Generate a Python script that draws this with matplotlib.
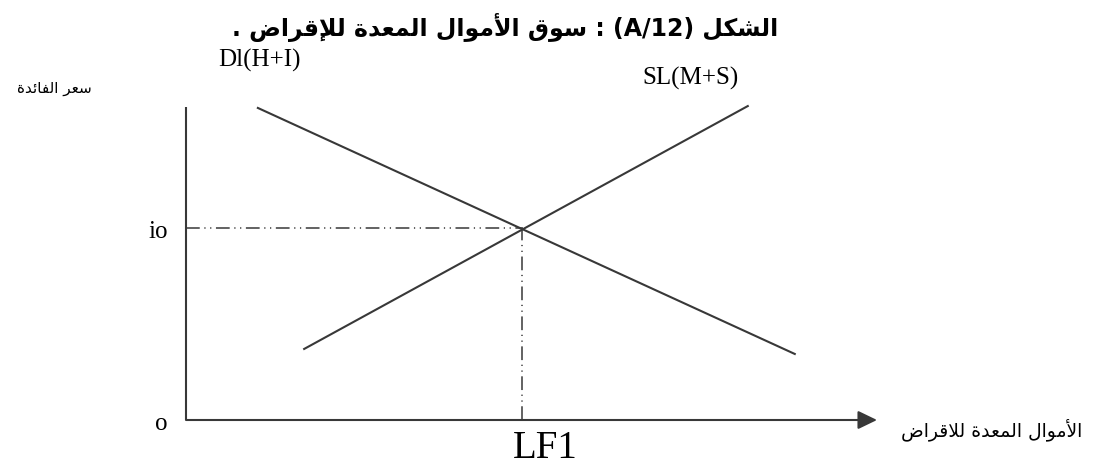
import re
import matplotlib
matplotlib.use("Agg")
import matplotlib.pyplot as plt

# ---------------- data ----------------
title = "الشكل (A/12) : سوق الأموال المعدة للإقراض ."
ylabel = "سعر الفائدة"
xlabel = "الأموال المعدة للاقراض"
demand_label = "Dl(H+I)"
supply_label = "SL(M+S)"
rate_label = "io"
origin_label = "o"
funds_label = "LF1"

demand_x = [10.4, 88.1]
demand_y = [99.7, 21.1]
supply_x = [17.1, 81.3]
supply_y = [22.7, 100.3]
eq_rate = 61.3     # io
eq_funds = 48.6    # LF1

# ---------------- minimal Arabic shaping + bidi ----------------
FORMS = {
    '\u0627': ('\uFE8D', '\uFE8E', None, None),
    '\u0623': ('\uFE83', '\uFE84', None, None),
    '\u0625': ('\uFE87', '\uFE88', None, None),
    '\u0622': ('\uFE81', '\uFE82', None, None),
    '\u0626': ('\uFE89', '\uFE8A', '\uFE8B', '\uFE8C'),
    '\u0629': ('\uFE93', '\uFE94', None, None),
    '\u062F': ('\uFEA9', '\uFEAA', None, None),
    '\u0631': ('\uFEAD', '\uFEAE', None, None),
    '\u0633': ('\uFEB1', '\uFEB2', '\uFEB3', '\uFEB4'),
    '\u0634': ('\uFEB5', '\uFEB6', '\uFEB7', '\uFEB8'),
    '\u0636': ('\uFEBD', '\uFEBE', '\uFEBF', '\uFEC0'),
    '\u0639': ('\uFEC9', '\uFECA', '\uFECB', '\uFECC'),
    '\u0641': ('\uFED1', '\uFED2', '\uFED3', '\uFED4'),
    '\u0642': ('\uFED5', '\uFED6', '\uFED7', '\uFED8'),
    '\u0643': ('\uFED9', '\uFEDA', '\uFEDB', '\uFEDC'),
    '\u0644': ('\uFEDD', '\uFEDE', '\uFEDF', '\uFEE0'),
    '\u0645': ('\uFEE1', '\uFEE2', '\uFEE3', '\uFEE4'),
    '\u0648': ('\uFEED', '\uFEEE', None, None),
}
LAM_ALEF = {
    '\u0627': ('\uFEFB', '\uFEFC'),
    '\u0623': ('\uFEF7', '\uFEF8'),
    '\u0625': ('\uFEF9', '\uFEFA'),
    '\u0622': ('\uFEF5', '\uFEF6'),
}


def _joins_next(c):
    return c in FORMS and FORMS[c][2] is not None


def shape(s):
    out = []
    i, n = 0, len(s)
    while i < n:
        c = s[i]
        if c not in FORMS:
            out.append(c)
            i += 1
            continue
        jp = i > 0 and _joins_next(s[i - 1])
        if c == '\u0644' and i + 1 < n and s[i + 1] in LAM_ALEF:
            out.append(LAM_ALEF[s[i + 1]][1 if jp else 0])
            i += 2
            continue
        jn = _joins_next(c) and i + 1 < n and s[i + 1] in FORMS
        iso, fin, ini, med = FORMS[c]
        if jp and jn:
            g = med
        elif jp:
            g = fin
        elif jn:
            g = ini
        else:
            g = iso
        out.append(g)
        i += 1
    return ''.join(out)


MIRROR = {'(': ')', ')': '('}


def visual(s):
    r = ''.join(MIRROR.get(ch, ch) for ch in reversed(shape(s)))
    return re.sub(r'[A-Za-z0-9/+]+', lambda m: m.group(0)[::-1], r)


# ---------------- figure ----------------
W, H = 1093, 471
fig = plt.figure(figsize=(W / 100, H / 100), dpi=100)
fig.patch.set_facecolor("white")


def fx(px):
    return px / W


def fy(py):
    return 1 - py / H


ax = fig.add_axes([fx(186), fy(420), fx(877) - fx(186), fy(107) - fy(420)])
ax.set_xlim(0, 100)
ax.set_ylim(0, 100)
ax.axis("off")

line_col = "#383838"

# axes
ax.plot([0, 0], [0, 100], color=line_col, lw=1.5, solid_capstyle="butt", clip_on=False)
ax.annotate("", xy=(100, 0), xytext=(0, 0),
            arrowprops=dict(arrowstyle="-|>,head_length=0.58,head_width=0.28",
                            mutation_scale=20, color=line_col, lw=1.5,
                            shrinkA=0, shrinkB=0),
            annotation_clip=False)

# curves
ax.plot(demand_x, demand_y, color=line_col, lw=1.5, clip_on=False)
ax.plot(supply_x, supply_y, color=line_col, lw=1.5, clip_on=False)

# intersection of the two curves
md = (demand_y[1] - demand_y[0]) / (demand_x[1] - demand_x[0])
ms = (supply_y[1] - supply_y[0]) / (supply_x[1] - supply_x[0])
cx = (supply_y[0] - demand_y[0] + md * demand_x[0] - ms * supply_x[0]) / (md - ms)

dash = (0, (9, 3, 0.8, 3, 0.8, 3))
ax.plot([0, cx], [eq_rate, eq_rate], color=line_col, lw=1.1, linestyle=dash, clip_on=False)
ax.plot([eq_funds, eq_funds], [0, eq_rate], color=line_col, lw=1.1, linestyle=dash, clip_on=False)

# ---------------- texts ----------------
serif = "Liberation Serif"
fig.text(fx(232), fy(36), visual(title), ha="left", va="baseline",
         fontsize=17, fontweight="bold", family="DejaVu Sans")
fig.text(fx(218), fy(67), demand_label, ha="left", va="baseline", fontsize=18, family=serif)
fig.text(fx(642), fy(85), supply_label, ha="left", va="baseline", fontsize=18, family=serif)
fig.text(fx(168), fy(238), rate_label, ha="right", va="baseline", fontsize=18, family=serif)
fig.text(fx(168), fy(430), origin_label, ha="right", va="baseline", fontsize=18, family=serif)
fig.text(fx(545), fy(458), funds_label, ha="center", va="baseline", fontsize=28, family=serif)
fig.text(fx(54), fy(93), visual(ylabel), ha="center", va="baseline", fontsize=11, family="DejaVu Sans")
fig.text(fx(992), fy(436), visual(xlabel), ha="center", va="baseline", fontsize=13.5, family="DejaVu Sans")

fig.savefig("out.png", dpi=100, facecolor="white")
